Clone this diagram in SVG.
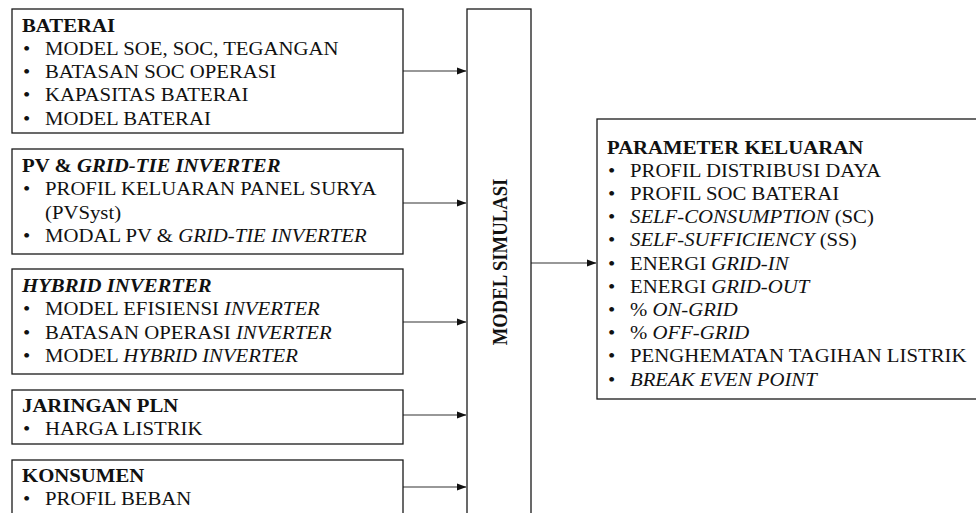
<svg xmlns="http://www.w3.org/2000/svg" width="976" height="513" viewBox="0 0 976 513">
<style>
text{font-family:"Liberation Serif","Times New Roman",serif;font-size:18.7px;fill:#111}
.b{font-weight:bold}
.i{font-style:italic}
.box{fill:#fff;stroke:#1a1a1a;stroke-width:1.3}
.con{stroke:#333;stroke-width:1.1;fill:none;marker-end:url(#ah)}
</style>
<defs>
<marker id="ah" markerUnits="userSpaceOnUse" markerWidth="10" markerHeight="8" refX="9" refY="4" orient="auto">
<path d="M0,0.5 L9.5,4 L0,7.5 z" fill="#111"/>
</marker>
</defs>
<rect width="976" height="513" fill="#fff"/>
<g id="connectors">
<line class="con" x1="403" y1="71" x2="466" y2="71"/>
<line class="con" x1="403" y1="203" x2="466" y2="203"/>
<line class="con" x1="403" y1="322" x2="466" y2="322"/>
<line class="con" x1="403" y1="415" x2="466" y2="415"/>
<line class="con" x1="403" y1="487" x2="466" y2="487"/>
<line class="con" x1="531" y1="263" x2="596" y2="263"/>
</g>
<g id="baterai">
<rect class="box" x="12" y="9" width="391" height="124"/>
<text class="b" transform="translate(22,31.5) scale(1.11,1)">BATERAI</text>
<text transform="translate(23,54.8) scale(1.11,1)">•</text><text transform="translate(45,54.8) scale(1.11,1)">MODEL SOE, SOC, TEGANGAN</text>
<text transform="translate(23,78.1) scale(1.11,1)">•</text><text transform="translate(45,78.1) scale(1.11,1)">BATASAN SOC OPERASI</text>
<text transform="translate(23,101.4) scale(1.11,1)">•</text><text transform="translate(45,101.4) scale(1.11,1)">KAPASITAS BATERAI</text>
<text transform="translate(23,124.7) scale(1.11,1)">•</text><text transform="translate(45,124.7) scale(1.11,1)">MODEL BATERAI</text>
</g>
<g id="pv">
<rect class="box" x="12" y="149" width="391" height="105"/>
<text class="b" transform="translate(22,172) scale(1.11,1)">PV &amp; <tspan class="i">GRID-TIE INVERTER</tspan></text>
<text transform="translate(23,195.3) scale(1.11,1)">•</text><text transform="translate(45,195.3) scale(1.11,1)">PROFIL KELUARAN PANEL SURYA</text>
<text transform="translate(45,218.6) scale(1.11,1)">(PVSyst)</text>
<text transform="translate(23,241.9) scale(1.11,1)">•</text><text transform="translate(45,241.9) scale(1.11,1)">MODAL PV &amp; <tspan class="i">GRID-TIE INVERTER</tspan></text>
</g>
<g id="hybrid">
<rect class="box" x="12" y="269" width="391" height="105"/>
<text class="b i" transform="translate(22,292) scale(1.11,1)">HYBRID INVERTER</text>
<text transform="translate(23,315.3) scale(1.11,1)">•</text><text transform="translate(45,315.3) scale(1.11,1)">MODEL EFISIENSI <tspan class="i">INVERTER</tspan></text>
<text transform="translate(23,338.6) scale(1.11,1)">•</text><text transform="translate(45,338.6) scale(1.11,1)">BATASAN OPERASI <tspan class="i">INVERTER</tspan></text>
<text transform="translate(23,361.9) scale(1.11,1)">•</text><text transform="translate(45,361.9) scale(1.11,1)">MODEL <tspan class="i">HYBRID INVERTER</tspan></text>
</g>
<g id="pln">
<rect class="box" x="12" y="390" width="391" height="54"/>
<text class="b" transform="translate(22,412) scale(1.11,1)">JARINGAN PLN</text>
<text transform="translate(23,435.3) scale(1.11,1)">•</text><text transform="translate(45,435.3) scale(1.11,1)">HARGA LISTRIK</text>
</g>
<g id="konsumen">
<rect class="box" x="12" y="460" width="391" height="70"/>
<text class="b" transform="translate(22,482) scale(1.11,1)">KONSUMEN</text>
<text transform="translate(23,505.3) scale(1.11,1)">•</text><text transform="translate(45,505.3) scale(1.11,1)">PROFIL BEBAN</text>
</g>
<g id="model-simulasi">
<rect class="box" x="467" y="9" width="64" height="530"/>
<text class="b" text-anchor="middle" transform="translate(506.5,262) scale(1.11,1) rotate(-90)">MODEL SIMULASI</text>
</g>
<g id="parameter-keluaran">
<rect class="box" x="597" y="119" width="400" height="280"/>
<text class="b" transform="translate(607,153.5) scale(1.11,1)">PARAMETER KELUARAN</text>
<text transform="translate(608,176.7) scale(1.11,1)">•</text><text transform="translate(630,176.7) scale(1.11,1)">PROFIL DISTRIBUSI DAYA</text>
<text transform="translate(608,199.9) scale(1.11,1)">•</text><text transform="translate(630,199.9) scale(1.11,1)">PROFIL SOC BATERAI</text>
<text transform="translate(608,223.1) scale(1.11,1)">•</text><text transform="translate(630,223.1) scale(1.11,1)"><tspan class="i">SELF-CONSUMPTION</tspan> (SC)</text>
<text transform="translate(608,246.3) scale(1.11,1)">•</text><text transform="translate(630,246.3) scale(1.11,1)"><tspan class="i">SELF-SUFFICIENCY</tspan> (SS)</text>
<text transform="translate(608,269.5) scale(1.11,1)">•</text><text transform="translate(630,269.5) scale(1.11,1)">ENERGI <tspan class="i">GRID-IN</tspan></text>
<text transform="translate(608,292.7) scale(1.11,1)">•</text><text transform="translate(630,292.7) scale(1.11,1)">ENERGI <tspan class="i">GRID-OUT</tspan></text>
<text transform="translate(608,315.9) scale(1.11,1)">•</text><text transform="translate(630,315.9) scale(1.11,1)">% <tspan class="i">ON-GRID</tspan></text>
<text transform="translate(608,339.1) scale(1.11,1)">•</text><text transform="translate(630,339.1) scale(1.11,1)">% <tspan class="i">OFF-GRID</tspan></text>
<text transform="translate(608,362.3) scale(1.11,1)">•</text><text transform="translate(630,362.3) scale(1.11,1)">PENGHEMATAN TAGIHAN LISTRIK</text>
<text transform="translate(608,385.5) scale(1.11,1)">•</text><text transform="translate(630,385.5) scale(1.11,1)"><tspan class="i">BREAK EVEN POINT</tspan></text>
</g>
</svg>
